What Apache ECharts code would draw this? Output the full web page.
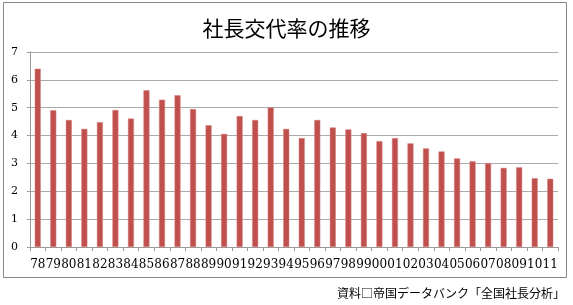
<!DOCTYPE html>
<html><head><meta charset="utf-8">
<script src="https://cdn.jsdelivr.net/npm/echarts@6/dist/echarts.min.js"></script>
<style>html,body{margin:0;padding:0;background:#fff}#c{width:573px;height:305px}</style>
</head><body><div id="c"></div>
<script>
const categories = ['78','79','80','81','82','83','84','85','86','87','88','89','90','91','92','93','94','95','96','97','98','99','00','01','02','03','04','05','06','07','08','09','10','11'];
const rates = [6.40,4.91,4.56,4.24,4.48,4.92,4.61,5.63,5.29,5.45,4.95,4.37,4.06,4.70,4.56,5.01,4.24,3.91,4.56,4.29,4.22,4.09,3.80,3.91,3.72,3.54,3.43,3.18,3.08,3.01,2.84,2.86,2.47,2.45];
const yTicks = [0,1,2,3,4,5,6,7];
const titleText = '社長交代率の推移';
const sourceText = '資料□帝国データバンク「全国社長分析」';

const chart = echarts.init(document.getElementById('c'), null, {renderer:'canvas'});
const serif = '"DejaVu Serif","Liberation Serif",serif';
chart.setOption({
  animation:false,
  backgroundColor:'#fff',
  title:{text:titleText,left:'center',top:13,textStyle:{fontFamily:'"Noto Sans CJK JP"',fontWeight:'normal',fontSize:21,color:'#000'}},
  graphic:[
    {type:'rect',shape:{x:3.5,y:2.5,width:563,height:275},style:{fill:null,stroke:'#888',lineWidth:1},silent:true},
    {type:'text',right:8,top:287,style:{text:sourceText,font:'12px "Noto Sans CJK JP"',fill:'#000'}}
  ],
  grid:{left:30,right:15,top:52,bottom:58},
  xAxis:{type:'category',data:categories,
    axisLine:{lineStyle:{color:'#999'}},
    axisTick:{show:true,alignWithLabel:false,length:4,lineStyle:{color:'#999'}},
    axisLabel:{interval:0,margin:12,fontFamily:serif,fontSize:12,color:'#000'}},
  yAxis:{type:'value',min:0,max:7,interval:1,
    axisLine:{show:true,lineStyle:{color:'#999'}},
    axisTick:{show:true,length:3,lineStyle:{color:'#999'}},
    splitLine:{lineStyle:{color:'#aaa'}},
    axisLabel:{margin:12,fontFamily:serif,fontSize:11,color:'#000',
      formatter:v=>yTicks.includes(v)?String(v):''}},
  series:[{type:'bar',data:rates,barWidth:6,itemStyle:{color:'#C0504D',borderColor:'#D9827F',borderWidth:0.5}}]
});
</script></body></html>
